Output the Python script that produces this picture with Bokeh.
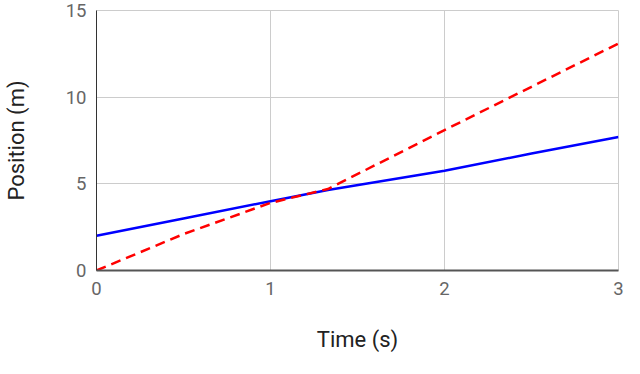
from bokeh.plotting import figure
from bokeh.models import Range1d, FixedTicker
from bokeh.embed import file_html
from bokeh.resources import INLINE

# Data
time_blue = [0, 0.5, 1.0, 1.33, 2.0, 2.5, 3.0]
pos_blue = [2.0, 3.0, 4.0, 4.65, 5.75, 6.75, 7.7]
time_red = [0, 0.5, 1.0, 1.33, 2.0, 2.5, 3.0]
pos_red = [0.0, 2.1, 3.9, 4.7, 8.1, 10.6, 13.1]
x_ticks = [0, 1, 2, 3]
y_ticks = [0, 5, 10, 15]

p = figure(width=624, height=358, output_backend="svg", toolbar_location=None,
           x_range=Range1d(0, 3), y_range=Range1d(0, 15),
           min_border_left=92, min_border_right=6, min_border_top=10, min_border_bottom=88)

p.outline_line_color = "#cccccc"
p.background_fill_color = "white"
p.border_fill_color = "white"

p.line(time_blue, pos_blue, line_color="#0000ff", line_width=2.5)
p.line(time_red, pos_red, line_color="#ff0000", line_width=2.5, line_dash="10 6")

for ax in (p.xaxis[0], p.yaxis[0]):
    ax.major_tick_line_color = None
    ax.minor_tick_line_color = None
    ax.major_tick_out = 0
    ax.major_tick_in = 0
    ax.minor_tick_out = 0
    ax.minor_tick_in = 0
    ax.major_label_text_font = "Roboto"
    ax.major_label_text_font_size = "18.5px"
    ax.major_label_text_color = "#666666"
    ax.axis_label_text_font = "Roboto"
    ax.axis_label_text_font_size = "22px"
    ax.axis_label_text_font_style = "normal"
    ax.axis_label_text_color = "#222222"

p.xaxis[0].ticker = FixedTicker(ticks=x_ticks)
p.yaxis[0].ticker = FixedTicker(ticks=y_ticks)
p.xaxis[0].axis_label = "Time (s)"
p.yaxis[0].axis_label = "Position (m)"
p.xaxis[0].axis_line_color = "#555555"
p.xaxis[0].axis_line_width = 2
p.yaxis[0].axis_line_color = "#333333"
p.yaxis[0].axis_line_width = 1
p.xaxis[0].major_label_standoff = 11
p.yaxis[0].major_label_standoff = 10
p.xaxis[0].axis_label_standoff = 29
p.yaxis[0].axis_label_standoff = 34

p.xgrid[0].ticker = FixedTicker(ticks=x_ticks)
p.ygrid[0].ticker = FixedTicker(ticks=y_ticks)
p.xgrid.grid_line_color = "#cccccc"
p.ygrid.grid_line_color = "#cccccc"
p.xgrid.grid_line_width = 1
p.ygrid.grid_line_width = 1

open("out.html", "w").write(file_html(p, INLINE))
